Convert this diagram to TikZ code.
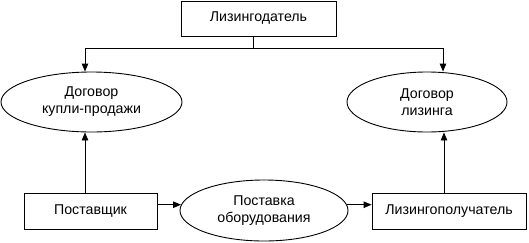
\documentclass[tikz,border=0pt]{standalone}
\usepackage{fontspec}
\setmainfont{Liberation Sans}
\usetikzlibrary{shapes.geometric,arrows.meta}
\begin{document}
\begin{tikzpicture}[x=1pt,y=-1pt,
  every node/.style={font=\fontsize{14.2}{17}\selectfont, inner sep=0pt, align=center},
  boxnode/.style={draw, line width=0.9pt, rectangle},
  ellnode/.style={draw, line width=0.9pt, ellipse},
  arr/.style={line width=0.9pt, -{Triangle[length=8pt,width=6.5pt]}},
  ln/.style={line width=0.9pt}]
\useasboundingbox (0,0) rectangle (529,242);
\node[boxnode, minimum width=155pt, minimum height=35pt] (lz) at (258.5,18.5) {Лизингодатель};
\node[ellnode, minimum width=181pt, minimum height=60pt] (dk) at (91.5,102) {Договор\\купли-продажи};
\node[ellnode, minimum width=160pt, minimum height=60pt] (dl) at (427,102) {Договор\\лизинга};
\node[boxnode, minimum width=133pt, minimum height=36pt] (pb) at (90.5,211) {Поставщик};
\node[ellnode, minimum width=168pt, minimum height=61pt] (po) at (264,210.5) {Поставка\\оборудования};
\node[boxnode, minimum width=154pt, minimum height=36pt] (lp) at (449,211) {Лизингополучатель};
\coordinate (j) at (253,48);
\draw[ln] ([xshift=-5.5pt]lz.south) -- (j);
\draw[arr] (j) -| ([xshift=-6.5pt]dk.north);
\draw[arr] (j) -| ([xshift=16pt]dl.north);
\draw[arr] ([xshift=-5.5pt]pb.north) -- ([xshift=-5.5pt]pb.north |- dk.south);
\draw[arr] ([xshift=-5pt]lp.north) -- ([xshift=-5pt]lp.north |- dl.south);
\draw[arr] (pb.east |- po.176) -- (po.176);
\draw[arr] (po.4) -- (lp.west |- po.4);
\end{tikzpicture}
\end{document}
